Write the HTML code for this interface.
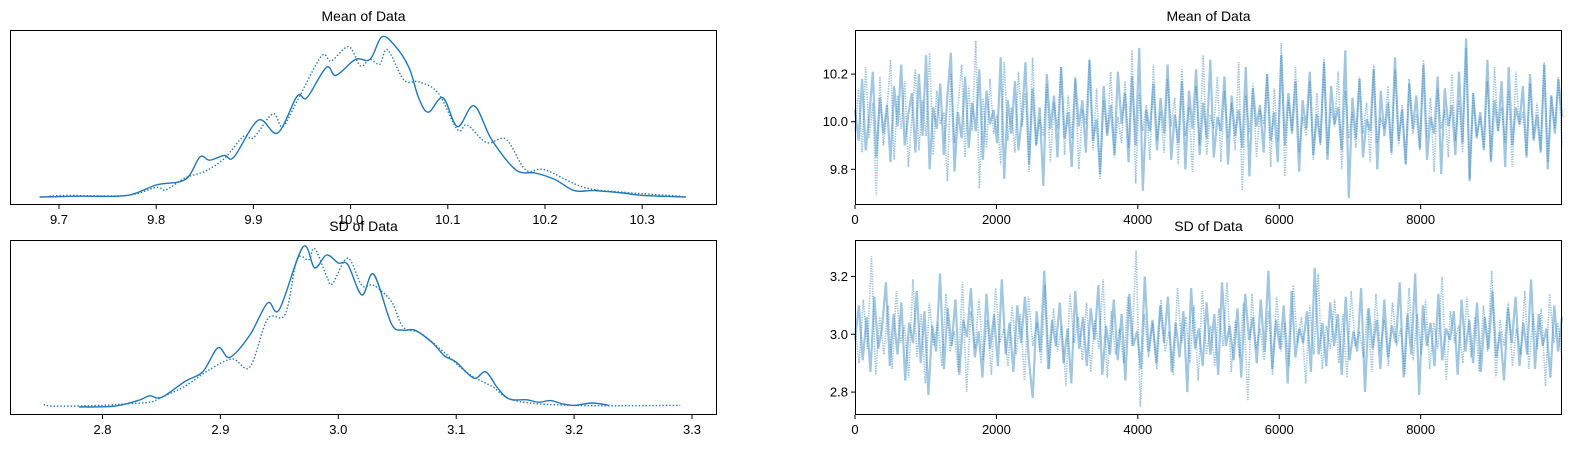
<!DOCTYPE html>
<html><head><meta charset="utf-8"><style>
html,body{margin:0;padding:0;background:#fff;}
svg{display:block;font-family:"Liberation Sans",sans-serif;}
</style></head><body>
<svg id="fig" width="1569" height="449" viewBox="0 0 1569 449"></svg>
<script>
// ---- KDE data (value, relative density) ----
const meanSolidX=[9.68,9.72,9.77,9.80,9.83,9.845,9.855,9.87,9.88,9.905,9.925,9.945,9.955,9.975,9.985,10.005,10.02,10.032,10.045,10.06,10.07,10.08,10.095,10.11,10.127,10.145,10.17,10.19,10.21,10.23,10.25,10.28,10.30,10.345];
const meanSolidY=[0,0.005,0.01,0.075,0.11,0.25,0.23,0.26,0.25,0.48,0.40,0.63,0.62,0.81,0.76,0.86,0.86,1.0,0.95,0.81,0.62,0.53,0.62,0.44,0.57,0.36,0.17,0.15,0.11,0.04,0.04,0.025,0.01,0];
const meanDotX=[9.69,9.71,9.77,9.80,9.81,9.83,9.85,9.87,9.89,9.90,9.92,9.93,9.945,9.97,9.98,9.998,10.01,10.02,10.03,10.038,10.055,10.07,10.09,10.11,10.12,10.14,10.16,10.18,10.20,10.24,10.28,10.34];
const meanDotY=[0.005,0.01,0.01,0.06,0.045,0.12,0.16,0.24,0.38,0.37,0.52,0.44,0.6,0.88,0.85,0.94,0.82,0.86,0.83,0.92,0.73,0.72,0.65,0.42,0.45,0.34,0.36,0.17,0.17,0.06,0.03,0.005];
const sdSolidX=[2.78,2.81,2.83,2.84,2.85,2.87,2.885,2.898,2.908,2.925,2.94,2.95,2.97,2.98,2.99,3.00,3.008,3.02,3.03,3.045,3.055,3.065,3.08,3.09,3.10,3.115,3.125,3.135,3.145,3.16,3.17,3.18,3.19,3.20,3.215,3.23];
const sdSolidY=[0,0.005,0.04,0.07,0.06,0.16,0.22,0.37,0.31,0.45,0.65,0.61,1.0,0.87,0.95,0.9,0.89,0.7,0.83,0.52,0.48,0.48,0.4,0.32,0.28,0.18,0.22,0.12,0.05,0.045,0.03,0.04,0.02,0.01,0.025,0.01];
const sdDotX=[2.75,2.76,2.80,2.82,2.84,2.85,2.87,2.89,2.91,2.925,2.94,2.955,2.965,2.975,2.98,2.99,2.995,3.008,3.02,3.03,3.045,3.055,3.07,3.09,3.11,3.13,3.15,3.20,3.29];
const sdDotY=[0.015,0.005,0.01,0.02,0.03,0.06,0.13,0.23,0.3,0.25,0.55,0.58,0.92,0.92,0.99,0.82,0.77,0.93,0.76,0.76,0.66,0.5,0.46,0.34,0.21,0.13,0.04,0.01,0.01];
// ---- trace data (thinned samples) ----
const meanChainA=[10.05,9.92,10.18,9.88,10.02,10.21,9.85,10.10,9.95,10.07,9.83,10.15,9.98,10.24,9.90,10.03,10.12,9.87,10.20,9.94,10.28,9.80,10.06,9.97,10.16,9.86,10.11,10.29,9.79,10.04,9.93,10.19,9.89,10.08,9.96,10.22,9.84,10.13,9.99,10.05,9.91,10.27,9.76,10.09,9.95,10.17,9.88,10.02,10.25,9.82,10.14,9.90,10.06,9.73,10.20,9.97,10.11,9.85,10.23,9.93,10.04,9.81,10.18,9.98,10.09,9.87,10.26,9.92,10.01,9.78,10.15,9.94,10.07,9.86,10.21,9.99,10.12,9.83,10.19,9.90,10.31,9.71,10.05,9.96,10.16,9.88,10.10,9.95,10.24,9.84,10.03,9.91,10.17,9.80,10.13,9.97,10.22,9.86,10.08,9.93,10.26,9.85,10.02,9.96,10.19,9.82,10.11,9.94,10.05,9.89,10.23,9.77,10.14,9.98,10.07,9.87,10.20,9.92,10.04,9.83,10.28,9.90,10.12,9.95,10.17,9.79,10.09,9.97,10.21,9.86,10.03,9.91,10.25,9.84,10.15,9.99,10.06,9.88,10.30,9.68,10.10,9.93,10.18,9.85,10.01,9.96,10.22,9.80,10.13,9.94,10.08,9.87,10.27,9.92,10.05,9.82,10.16,9.97,10.11,9.89,10.24,9.84,10.02,9.95,10.19,9.78,10.14,9.98,10.07,9.86,10.21,9.91,10.35,9.75,10.12,9.93,10.04,9.88,10.26,9.83,10.09,9.96,10.17,9.81,10.23,9.90,10.06,9.99,10.15,9.85,10.20,9.92,10.03,9.87,10.24,9.80,10.11,9.95,10.18,10.02];
const meanChainB=[9.96,10.14,9.87,10.23,9.93,10.08,9.69,10.19,9.90,10.05,10.26,9.84,10.11,9.97,10.17,9.81,10.02,10.22,9.88,10.09,9.94,10.29,9.86,10.13,9.99,10.04,9.75,10.20,9.91,10.07,10.24,9.85,10.15,9.96,10.34,9.72,10.10,9.89,10.18,9.95,10.03,9.82,10.25,9.92,10.06,9.87,10.21,9.98,10.12,9.79,10.27,9.90,10.01,9.94,10.16,9.83,10.08,9.97,10.23,9.86,10.11,9.93,10.19,9.80,10.05,9.99,10.26,9.88,10.14,9.76,10.09,9.95,10.21,9.85,10.02,9.91,10.17,9.89,10.30,9.74,10.12,9.96,10.07,9.84,10.24,9.92,10.04,9.87,10.18,9.98,10.10,9.82,10.22,9.94,10.06,9.79,10.15,9.90,10.28,9.86,10.03,9.97,10.19,9.83,10.13,9.93,10.08,9.88,10.25,9.71,10.11,9.95,10.16,9.85,10.05,9.99,10.20,9.81,10.14,9.92,10.33,9.77,10.09,9.96,10.23,9.87,10.02,9.94,10.17,9.84,10.12,9.90,10.27,9.86,10.06,9.98,10.21,9.80,10.13,9.93,10.04,9.89,10.19,9.95,10.08,9.83,10.24,9.91,10.01,9.97,10.15,9.86,10.22,9.90,10.07,9.82,10.18,9.95,10.03,9.88,10.26,9.93,10.10,9.79,10.14,9.97,10.05,9.85,10.20,9.92,10.09,9.87,10.31,9.76,10.12,9.94,10.02,9.89,10.17,9.84,10.23,9.96,10.06,9.91,10.13,9.81,10.21,9.98,10.04,9.86,10.16,9.93,10.08,9.88,10.25,9.83,10.11,9.97,10.19,9.90];
const sdChainA=[2.98,3.10,2.91,3.06,2.87,3.13,2.95,3.02,3.18,2.89,3.07,2.93,3.11,2.84,3.04,2.97,3.15,2.90,3.08,2.79,3.03,2.94,3.21,2.88,3.09,2.96,3.12,2.86,3.05,2.99,3.16,2.92,3.01,2.85,3.14,2.95,3.07,2.89,3.19,2.93,3.04,2.87,3.10,2.97,3.13,2.91,2.78,3.08,2.94,3.22,2.88,3.05,2.96,3.11,2.90,3.02,2.83,3.15,2.95,3.06,2.89,3.09,2.98,3.17,2.86,3.03,2.93,3.12,2.91,3.07,2.84,3.14,2.96,3.01,2.88,3.20,2.94,3.05,2.90,3.10,2.97,3.13,2.87,3.04,2.92,3.08,2.80,3.16,2.95,3.02,2.89,3.11,2.93,3.07,2.86,3.18,2.96,3.03,2.91,3.09,2.85,3.14,2.98,3.06,2.90,3.12,2.94,3.22,2.88,3.05,2.95,3.10,2.83,3.15,2.92,3.02,2.97,3.08,2.87,3.23,2.93,3.04,2.89,3.11,2.96,3.07,2.86,3.13,2.91,3.01,2.94,3.16,2.80,3.09,2.95,3.05,2.88,3.12,2.92,3.03,2.97,3.18,2.85,3.07,2.93,3.21,2.79,3.10,2.96,3.04,2.89,3.14,2.91,3.02,2.98,3.08,2.86,3.12,2.94,3.05,2.90,3.11,2.87,3.06,2.95,3.15,2.92,3.01,2.84,3.09,2.97,3.13,2.89,3.04,2.93,3.19,2.88,3.07,2.96,3.02,2.85,3.10,2.94,3.06];
const sdChainB=[3.02,2.90,3.12,2.95,3.27,2.86,3.06,2.93,3.10,2.88,3.15,2.97,3.03,2.85,3.19,2.92,3.07,2.83,3.11,2.96,3.04,2.89,3.14,2.94,3.01,2.87,3.18,2.80,3.08,2.95,3.12,2.91,3.05,2.86,3.16,2.97,3.02,2.89,3.10,2.93,3.07,2.84,3.13,2.96,3.04,2.90,3.17,2.88,3.09,2.94,3.03,2.82,3.14,2.97,3.06,2.91,3.11,2.87,3.05,2.95,3.19,2.85,3.08,2.93,3.02,2.90,3.13,2.96,3.29,2.75,3.07,2.92,3.04,2.88,3.12,2.94,3.01,2.86,3.16,2.97,3.06,2.90,3.10,2.84,3.15,2.93,3.03,2.89,3.09,2.96,3.18,2.87,3.05,2.92,3.11,2.77,3.14,2.95,3.02,2.91,3.08,2.86,3.13,2.94,3.04,2.89,3.17,2.97,3.06,2.83,3.10,2.93,3.21,2.88,3.03,2.95,3.12,2.90,3.07,2.85,3.15,2.96,3.01,2.92,3.09,2.87,3.14,2.94,3.05,2.89,3.11,2.96,3.02,2.86,3.16,2.91,3.07,2.93,3.12,2.88,3.04,2.95,3.20,2.84,3.08,2.97,3.03,2.90,3.13,2.92,3.06,2.87,3.10,2.94,3.22,2.85,3.05,2.96,3.11,2.89,3.02,2.93,3.15,2.88,3.07,2.95,3.09,2.82,3.14,2.97,3.04,2.91];
const meanKdeTicks=["9.7","9.8","9.9","10.0","10.1","10.2","10.3"];
const sdKdeTicks=["2.8","2.9","3.0","3.1","3.2","3.3"];
const drawTicks=["0","2000","4000","6000","8000"];
const meanTraceTicks=["9.8","10.0","10.2"];
const sdTraceTicks=["2.8","3.0","3.2"];

const NS="http://www.w3.org/2000/svg";
const svg=document.getElementById('fig');
const C="#1f77b4";
function el(tag,attrs,parent){const e=document.createElementNS(NS,tag);for(const k in attrs)e.setAttribute(k,attrs[k]);(parent||svg).appendChild(e);return e;}
function txt(s,x,y,anchor,size,parent){const t=el('text',{x:x,y:y,'text-anchor':anchor,'font-size':size,fill:'#000'},parent);t.textContent=s;return t;}

function panel(name,x0,y0,x1,y1,title){
  const g=el('g',{});
  
  
  const t=txt(title,(x0+x1)/2,y0-9,'middle',14,g);
  
  
  return g;
}
function frame(g,name,x0,y0,x1,y1){
  const r=el('rect',{x:x0+0.5,y:y0+0.5,width:x1-x0-1,height:y1-y0-1,fill:'none',stroke:'#000','stroke-width':1},g);
  
  
}
function xTicks(g,name,labels,sx,y1){
  labels.forEach(l=>{const x=sx(parseFloat(l));
    el('line',{x1:x,x2:x,y1:y1,y2:y1+4,stroke:'#000'},g);
    const t=txt(l,x,y1+19,'middle',13,g);
    
    });
}
function yTicks(g,name,labels,sy,x0){
  labels.forEach(l=>{const y=sy(parseFloat(l));
    el('line',{x1:x0-4,x2:x0,y1:y,y2:y,stroke:'#000'},g);
    const t=txt(l,x0-7,y+4.5,'end',13,g);
    
    });
}
function poly(g,name,xs,ys,sx,sy,style){
  const pts=xs.map((v,i)=>sx(v).toFixed(1)+','+sy(ys[i]).toFixed(1)).join(' ');
  const p=el('polyline',Object.assign({points:pts,fill:'none'},style),g);
  
  
}
function smooth(g,name,xs,ys,sx,sy,style){
  const P=xs.map((v,i)=>[sx(v),sy(ys[i])]);
  let d='M'+P[0][0].toFixed(1)+','+P[0][1].toFixed(1);
  for(let i=0;i<P.length-1;i++){
    const p0=P[Math.max(0,i-1)],p1=P[i],p2=P[i+1],p3=P[Math.min(P.length-1,i+2)];
    const c1=[p1[0]+(p2[0]-p0[0])/6,p1[1]+(p2[1]-p0[1])/6];
    const c2=[p2[0]-(p3[0]-p1[0])/6,p2[1]-(p3[1]-p1[1])/6];
    d+=' C'+c1[0].toFixed(1)+','+c1[1].toFixed(1)+' '+c2[0].toFixed(1)+','+c2[1].toFixed(1)+' '+p2[0].toFixed(1)+','+p2[1].toFixed(1);
  }
  const p=el('path',Object.assign({d:d,fill:'none'},style),g);
  
  
}
function idx(arr){return arr.map((_,i)=>i*9999/(arr.length-1));}
const traceA={stroke:C,'stroke-opacity':0.42,'stroke-width':2.2};
const traceB={stroke:C,'stroke-opacity':0.45,'stroke-width':1.6,'stroke-dasharray':'1.3,1.2'};

// Left-top KDE
(function(){const x0=10,x1=717,y0=30,y1=205;
  const g=panel('mean-kde-panel',x0,y0,x1,y1,'Mean of Data');
  const sx=v=>59+(v-9.7)*972, sy=h=>197-h*160;
  smooth(g,'mean-kde-chain1',meanSolidX,meanSolidY,sx,sy,{stroke:C,'stroke-width':1.4});
  smooth(g,'mean-kde-chain2',meanDotX,meanDotY,sx,sy,{stroke:C,'stroke-width':1.4,'stroke-dasharray':'1.4,2'});
  frame(g,'mean-kde',x0,y0,x1,y1);xTicks(g,'mean-kde',meanKdeTicks,sx,y1);})();
// Left-bottom KDE
(function(){const x0=10,x1=717,y0=240,y1=415;
  const g=panel('sd-kde-panel',x0,y0,x1,y1,'SD of Data');
  const sx=v=>102.5+(v-2.8)*1179, sy=h=>407-h*160;
  smooth(g,'sd-kde-chain1',sdSolidX,sdSolidY,sx,sy,{stroke:C,'stroke-width':1.4});
  smooth(g,'sd-kde-chain2',sdDotX,sdDotY,sx,sy,{stroke:C,'stroke-width':1.4,'stroke-dasharray':'1.4,2'});
  frame(g,'sd-kde',x0,y0,x1,y1);xTicks(g,'sd-kde',sdKdeTicks,sx,y1);})();
// Right-top trace
(function(){const x0=855,x1=1562,y0=30,y1=205;
  const g=panel('mean-trace-panel',x0,y0,x1,y1,'Mean of Data');
  const sx=v=>855+v/9999*707, sy=v=>121.7-(v-10)*238;
  poly(g,'mean-trace-chain1',idx(meanChainA),meanChainA,sx,sy,traceA);
  poly(g,'mean-trace-chain2',idx(meanChainB),meanChainB,sx,sy,traceB);
  frame(g,'mean-trace',x0,y0,x1,y1);xTicks(g,'mean-trace',drawTicks,sx,y1);yTicks(g,'mean-trace',meanTraceTicks,sy,x0);})();
// Right-bottom trace
(function(){const x0=855,x1=1562,y0=240,y1=415;
  const g=panel('sd-trace-panel',x0,y0,x1,y1,'SD of Data');
  const sx=v=>855+v/9999*707, sy=v=>334.3-(v-3)*289;
  poly(g,'sd-trace-chain1',idx(sdChainA),sdChainA,sx,sy,traceA);
  poly(g,'sd-trace-chain2',idx(sdChainB),sdChainB,sx,sy,traceB);
  frame(g,'sd-trace',x0,y0,x1,y1);xTicks(g,'sd-trace',drawTicks,sx,y1);yTicks(g,'sd-trace',sdTraceTicks,sy,x0);})();
</script>
</body></html>
